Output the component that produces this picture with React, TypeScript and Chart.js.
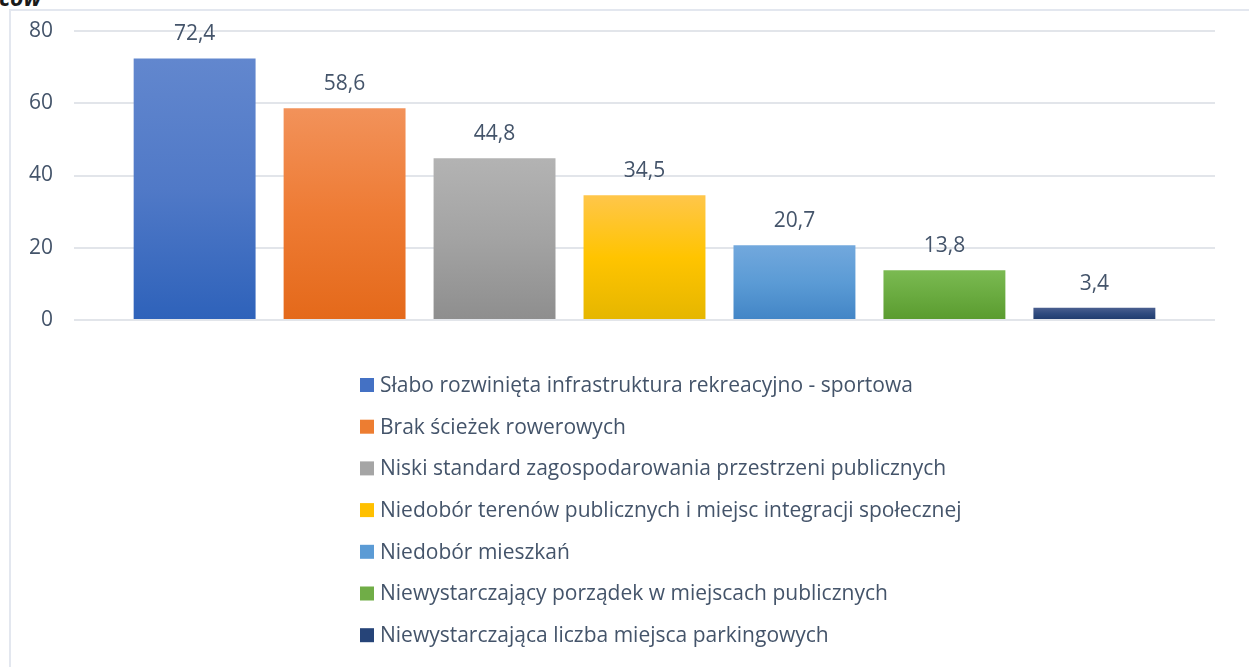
import React, { useEffect, useRef } from "react";
import { Chart, registerables } from "chart.js";

Chart.register(...registerables);

const categories = [
  "Słabo rozwinięta infrastruktura rekreacyjno - sportowa",
  "Brak ścieżek rowerowych",
  "Niski standard zagospodarowania przestrzeni publicznych",
  "Niedobór terenów publicznych i miejsc integracji społecznej",
  "Niedobór mieszkań",
  "Niewystarczający porządek w miejscach publicznych",
  "Niewystarczająca liczba miejsca parkingowych",
];
const values = [72.4, 58.6, 44.8, 34.5, 20.7, 13.8, 3.4];
const yTicks = [0, 20, 40, 60, 80];

const topColors = ["#6287CE", "#F2925A", "#B3B3B3", "#FFC64A", "#72A8DD", "#7BBA52", "#4B5F8F"];
const midColors = ["#5079C7", "#EE7B34", "#A3A3A3", "#FFC400", "#5B9BD5", "#6AAB40", "#2E4A7E"];
const bottomColors = ["#2E62BA", "#E4691A", "#8E8E8E", "#E5B600", "#4285C6", "#5A9B2F", "#1F3A6C"];
const legendColors = ["#4471C4", "#ED7D31", "#A5A5A5", "#FFC000", "#5B9BD5", "#70AD47", "#264478"];

const FONT = "'Open Sans', Lato, sans-serif";
const TEXT = "#44546A";

export default function App() {
  const ref = useRef<HTMLCanvasElement | null>(null);

  useEffect(() => {
    if (!ref.current) return;

    const labelPlugin = {
      id: "barLabels",
      afterDatasetsDraw(chart: any) {
        const c = chart.ctx;
        c.save();
        c.font = `21px ${FONT}`;
        c.fillStyle = TEXT;
        c.textAlign = "center";
        c.textBaseline = "alphabetic";
        chart.data.datasets.forEach((ds: any, i: number) => {
          const el = chart.getDatasetMeta(i).data[0];
          if (!el) return;
          const txt = String(ds.data[0]).replace(".", ",");
          c.fillText(txt, el.x, el.y - 18);
        });
        c.restore();
      },
    };

    const legendPlugin = {
      id: "vertLegend",
      afterDraw(chart: any) {
        const c = chart.ctx;
        const area = chart.chartArea;
        c.save();
        c.font = `21px ${FONT}`;
        c.textBaseline = "middle";
        c.textAlign = "left";
        const left = area.left + 286;
        const startY = area.bottom + 65;
        const step = 41.7;
        chart.data.datasets.forEach((ds: any, i: number) => {
          const y = startY + i * step;
          c.fillStyle = legendColors[i];
          c.fillRect(left, y - 7, 14, 14);
          c.fillStyle = TEXT;
          c.fillText(ds.label, left + 20, y + 1);
        });
        c.restore();
      },
    };

    const chart = new Chart(ref.current, {
      type: "bar",
      data: {
        labels: [""],
        datasets: categories.map((label, i) => ({
          label,
          data: [values[i]],
          backgroundColor: (ctx: any) => {
            const ch = ctx.chart;
            const ys = ch.scales && ch.scales.y;
            if (!ys || !ch.chartArea) return midColors[i];
            const top = ys.getPixelForValue(ctx.raw ?? values[i]);
            const base = ys.getPixelForValue(0);
            if (!isFinite(top) || !isFinite(base) || top === base) return midColors[i];
            const g = ch.ctx.createLinearGradient(0, top, 0, base);
            g.addColorStop(0, topColors[i]);
            g.addColorStop(0.5, midColors[i]);
            g.addColorStop(1, bottomColors[i]);
            return g;
          },
          borderWidth: 0,
          categoryPercentage: 0.92,
          barPercentage: 0.813,
        })),
      },
      options: {
        responsive: false,
        animation: false,
        layout: { padding: { top: 31, bottom: 347, right: 34, left: 0 } },
        plugins: {
          legend: { display: false },
          tooltip: { enabled: false },
          title: { display: false },
        },
        scales: {
          x: { display: false, grid: { display: false } },
          y: {
            min: 0,
            max: 80,
            afterBuildTicks: (scale: any) => {
              scale.ticks = yTicks.map((v) => ({ value: v }));
            },
            afterFit: (scale: any) => {
              scale.width = 74;
              scale.paddingTop = 0;
              scale.paddingBottom = 0;
            },
            border: { display: false },
            grid: { color: "#E2E5EA", lineWidth: 2, drawTicks: false },
            ticks: {
              padding: 21,
              color: TEXT,
              font: { family: FONT, size: 21 },
            },
          },
        },
      },
      plugins: [labelPlugin, legendPlugin],
    });

    return () => chart.destroy();
  }, []);

  return (
    <div style={{ position: "fixed", left: 0, top: 0, width: 1249, height: 667, overflow: "hidden", background: "#fff" }}>
      <div
        style={{
          position: "absolute",
          left: -1,
          top: -14,
          font: `italic bold 23px ${FONT}`,
          color: "#1a1a1a",
          lineHeight: "22px",
        }}
      >
        ców
      </div>
      <div
        style={{
          position: "absolute",
          left: 9,
          top: 9,
          width: 1300,
          height: 700,
          borderLeft: "2px solid #E3E7EF",
          borderTop: "2px solid #E3E7EF",
        }}
      />
      <canvas ref={ref} width={1249} height={667} style={{ position: "absolute", left: 0, top: 0 }} />
    </div>
  );
}
